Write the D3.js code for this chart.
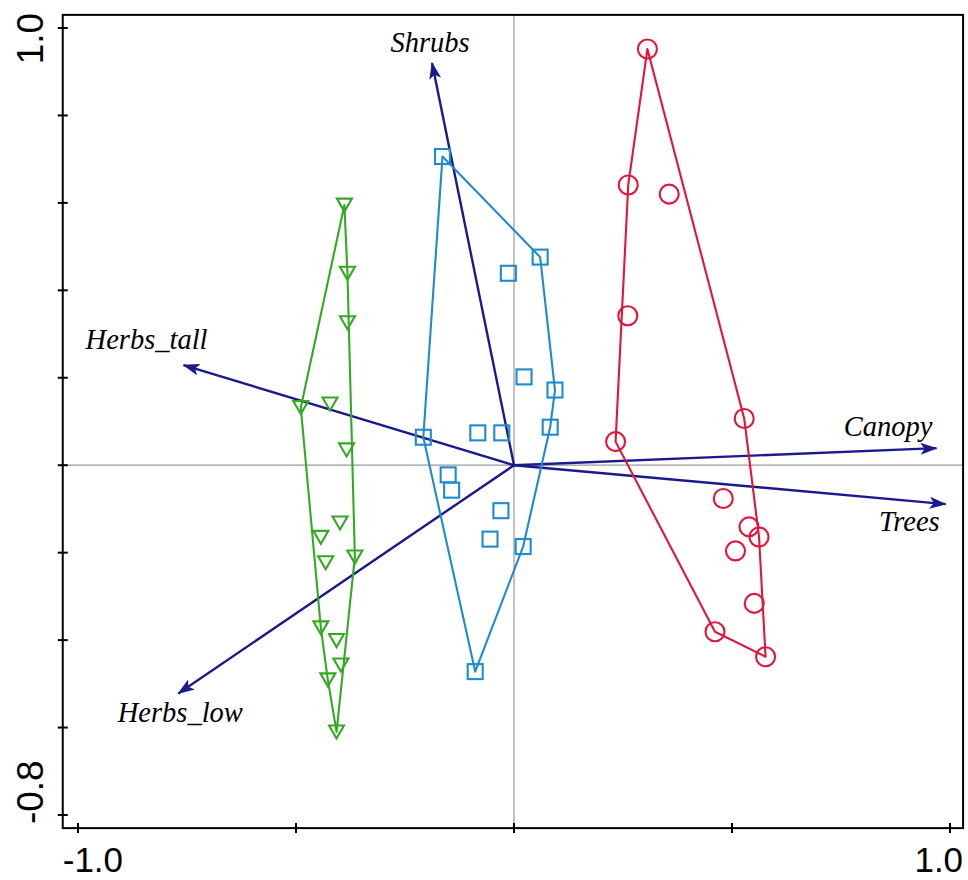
<!DOCTYPE html>
<html>
<head>
<meta charset="utf-8">
<script src="https://cdn.jsdelivr.net/npm/d3@7"></script>
<style>
  html, body { margin: 0; padding: 0; background: #fff; }
  svg { display: block; }
  .axis-label { font-family: "Liberation Sans", Arial, sans-serif; font-size: 35px; fill: #000; }
  .axis-label--y { font-size: 37px; }
  .var-label { font-family: "Liberation Serif", "Times New Roman", serif; font-style: italic; font-size: 28.5px; fill: #000; }
</style>
</head>
<body>
<div id="chart"></div>
<script>
// ordination biplot: sample groups with convex hulls + environmental arrows

const X_TICKS = [-1, -0.5, 0, 0.5, 1];
const Y_TICKS = [1.0, 0.8, 0.6, 0.4, 0.2, 0, -0.2, -0.4, -0.6, -0.8];
const X_TICK_LABELS = ["-1.0", "1.0"];
const Y_TICK_LABELS = ["1.0", "-0.8"];

// green triangles
const GROUP_A = [
  [-0.389, 0.595], [-0.382, 0.439], [-0.382, 0.326], [-0.489, 0.132], [-0.422, 0.140],
  [-0.384, 0.035], [-0.399, -0.132], [-0.443, -0.165], [-0.365, -0.210], [-0.432, -0.223],
  [-0.443, -0.372], [-0.407, -0.401], [-0.397, -0.457], [-0.427, -0.491], [-0.407, -0.610],
];
// blue squares
const GROUP_B = [
  [-0.164, 0.706], [0.060, 0.476], [-0.013, 0.439], [0.023, 0.202], [0.094, 0.172],
  [0.083, 0.087], [-0.208, 0.064], [-0.083, 0.074], [-0.028, 0.074], [-0.151, -0.022],
  [-0.143, -0.057], [-0.030, -0.104], [-0.055, -0.169], [0.021, -0.186], [-0.089, -0.472],
];
// red circles
const GROUP_C = [
  [0.306, 0.952], [0.262, 0.641], [0.356, 0.620], [0.261, 0.342], [0.233, 0.054],
  [0.528, 0.107], [0.480, -0.076], [0.539, -0.141], [0.562, -0.164], [0.508, -0.196],
  [0.551, -0.316], [0.461, -0.381], [0.577, -0.438],
];

const ARROW_NAMES = ["Shrubs", "Herbs_tall", "Canopy", "Trees", "Herbs_low"];
const ARROW_X = [-0.188, -0.758, 0.969, 0.990, -0.770];
const ARROW_Y = [0.920, 0.229, 0.039, -0.089, -0.522];

(function () {
  const width = 968;
  const height = 880;

  const x = d3.scaleLinear().domain([-1, 1]).range([78, 950]);
  const y = d3.scaleLinear().domain([-0.8, 1.0]).range([815, 28]);

  // frame sits a little outside the labelled range
  const X_LIMITS = [-1.035, 1.03];
  const Y_LIMITS = [-0.83, 1.03];

  const NAVY = "#1a1a8c";
  const groups = [
    { key: "a", points: GROUP_A, color: "#33aa22", shape: "triangle" },
    { key: "b", points: GROUP_B, color: "#1e8ccc", shape: "square" },
    { key: "c", points: GROUP_C, color: "#e2153c", shape: "circle" },
  ];

  const svg = d3.select("#chart").append("svg").attr("width", width).attr("height", height);

  const frameLeft = x(X_LIMITS[0]);
  const frameRight = x(X_LIMITS[1]);
  const frameTop = y(Y_LIMITS[1]);
  const frameBottom = y(Y_LIMITS[0]);

  // zero lines
  svg.append("line")
    .attr("x1", frameLeft).attr("x2", frameRight)
    .attr("y1", y(0)).attr("y2", y(0))
    .attr("stroke", "#9a9a9a").attr("stroke-width", 1.2);
  svg.append("line")
    .attr("x1", x(0)).attr("x2", x(0))
    .attr("y1", frameTop).attr("y2", frameBottom)
    .attr("stroke", "#9a9a9a").attr("stroke-width", 1.2);

  // arrows
  svg.append("defs").append("marker")
    .attr("id", "arrowhead")
    .attr("viewBox", "0 0 17 12")
    .attr("refX", 16)
    .attr("refY", 6)
    .attr("markerWidth", 17)
    .attr("markerHeight", 12)
    .attr("markerUnits", "userSpaceOnUse")
    .attr("orient", "auto")
    .append("path")
    .attr("d", "M0,0 L17,6 L0,12 L4,6 Z")
    .attr("fill", NAVY);

  const arrows = ARROW_NAMES.map((name, i) => ({ name, vx: ARROW_X[i], vy: ARROW_Y[i] }));

  svg.selectAll("line.arrow")
    .data(arrows)
    .join("line")
    .attr("class", "arrow")
    .attr("x1", x(0)).attr("y1", y(0))
    .attr("x2", (d) => x(d.vx))
    .attr("y2", (d) => y(d.vy))
    .attr("stroke", NAVY)
    .attr("stroke-width", 2.4)
    .attr("marker-end", "url(#arrowhead)");

  // label offsets (px) relative to arrow tips
  const labelPlace = {
    Shrubs: { dx: -2, dy: -11, anchor: "middle" },
    Herbs_tall: { dx: 24, dy: -16, anchor: "end" },
    Canopy: { dx: -4, dy: -12, anchor: "end" },
    Trees: { dx: -6, dy: 27, anchor: "end" },
    Herbs_low: { dx: 2, dy: 29, anchor: "middle" },
  };

  svg.selectAll("text.var-label")
    .data(arrows)
    .join("text")
    .attr("class", "var-label")
    .attr("x", (d) => x(d.vx) + labelPlace[d.name].dx)
    .attr("y", (d) => y(d.vy) + labelPlace[d.name].dy)
    .attr("text-anchor", (d) => labelPlace[d.name].anchor)
    .text((d) => d.name);

  // hulls
  groups.forEach((grp) => {
    const px = grp.points.map((p) => [x(p[0]), y(p[1])]);
    const hull = d3.polygonHull(px);
    svg.append("path")
      .attr("d", "M" + hull.join("L") + "Z")
      .attr("fill", "none")
      .attr("stroke", grp.color)
      .attr("stroke-width", 2.1)
      .attr("stroke-linejoin", "round");
  });

  // markers
  groups.forEach((grp) => {
    const g = svg.append("g").attr("fill", "none").attr("stroke", grp.color).attr("stroke-width", 2.1);
    if (grp.shape === "circle") {
      g.selectAll("circle")
        .data(grp.points)
        .join("circle")
        .attr("cx", (d) => x(d[0]))
        .attr("cy", (d) => y(d[1]))
        .attr("r", 9.5);
    } else if (grp.shape === "square") {
      g.selectAll("rect")
        .data(grp.points)
        .join("rect")
        .attr("x", (d) => x(d[0]) - 7.5)
        .attr("y", (d) => y(d[1]) - 7.5)
        .attr("width", 15)
        .attr("height", 15);
    } else {
      g.selectAll("path")
        .data(grp.points)
        .join("path")
        .attr("d", (d) => {
          const cx = x(d[0]);
          const cy = y(d[1]);
          return `M${cx - 7.5},${cy - 6.5} L${cx + 7.5},${cy - 6.5} L${cx},${cy + 6.5} Z`;
        })
        .attr("stroke-linejoin", "miter");
    }
  });

  // frame
  svg.append("rect")
    .attr("x", frameLeft).attr("y", frameTop)
    .attr("width", frameRight - frameLeft).attr("height", frameBottom - frameTop)
    .attr("fill", "none")
    .attr("stroke", "#000")
    .attr("stroke-width", 2);

  // ticks crossing the left and bottom edges
  svg.selectAll("line.ytick")
    .data(Y_TICKS)
    .join("line")
    .attr("class", "ytick")
    .attr("x1", frameLeft - 5).attr("x2", frameLeft + 5)
    .attr("y1", (d) => y(d)).attr("y2", (d) => y(d))
    .attr("stroke", "#000").attr("stroke-width", 2);

  svg.selectAll("line.xtick")
    .data(X_TICKS)
    .join("line")
    .attr("class", "xtick")
    .attr("x1", (d) => x(d)).attr("x2", (d) => x(d))
    .attr("y1", frameBottom - 5).attr("y2", frameBottom + 5)
    .attr("stroke", "#000").attr("stroke-width", 2);

  // end labels, aligned to the frame corners
  svg.append("text").attr("class", "axis-label")
    .attr("x", frameLeft).attr("y", 872).attr("text-anchor", "start")
    .text(X_TICK_LABELS[0]);
  svg.append("text").attr("class", "axis-label")
    .attr("x", frameRight).attr("y", 872).attr("text-anchor", "end")
    .text(X_TICK_LABELS[1]);

  svg.append("text").attr("class", "axis-label axis-label--y")
    .attr("transform", `translate(43,${frameTop - 2}) rotate(-90)`)
    .attr("text-anchor", "end")
    .text(Y_TICK_LABELS[0]);
  svg.append("text").attr("class", "axis-label axis-label--y")
    .attr("transform", `translate(43,${frameBottom - 4}) rotate(-90)`)
    .attr("text-anchor", "start")
    .text(Y_TICK_LABELS[1]);
})();
</script>
</body>
</html>
